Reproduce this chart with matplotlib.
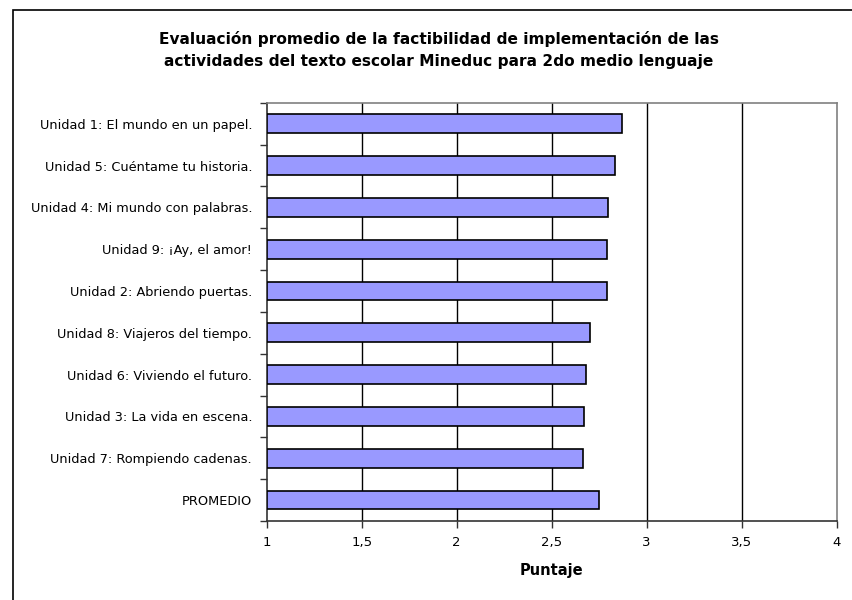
import matplotlib.pyplot as plt
import matplotlib.patches as patches
import numpy as np

unidades = ["Unidad 1: El mundo en un papel.",
            "Unidad 5: Cuéntame tu historia.",
            "Unidad 4: Mi mundo con palabras.",
            "Unidad 9: ¡Ay, el amor!",
            "Unidad 2: Abriendo puertas.",
            "Unidad 8: Viajeros del tiempo.",
            "Unidad 6: Viviendo el futuro.",
            "Unidad 3: La vida en escena.",
            "Unidad 7: Rompiendo cadenas.",
            "PROMEDIO"]
puntajes = [2.87, 2.834, 2.797, 2.79, 2.79, 2.702, 2.679, 2.672, 2.665, 2.751]
xticks = [1, 1.5, 2, 2.5, 3, 3.5, 4]
xlabels = ["1", "1,5", "2", "2,5", "3", "3,5", "4"]

plt.rcParams['font.family'] = ['DejaVu Sans']

fig = plt.figure(figsize=(8.52, 6), dpi=100)
ax = fig.add_axes([0.313, 0.1317, 0.669, 0.697])

y = np.arange(len(unidades))
ax.barh(y, np.array(puntajes) - 1, left=1, height=0.45, color="#9999FF",
        edgecolor="black", linewidth=1.2, zorder=3)

ax.set_xlim(1, 4)
ax.set_ylim(len(unidades) - 0.5, -0.5)
ax.set_xticks(xticks)
ax.set_xticklabels(xlabels, fontsize=9.5)
ax.set_yticks(y)
ax.set_yticklabels(unidades, fontsize=9.3)
ax.tick_params(axis="y", which="major", length=0, pad=10.5)
ax.set_yticks(np.arange(len(unidades) + 1) - 0.5, minor=True)
ax.tick_params(axis="y", which="minor", length=5, width=1, color="#333333")
ax.tick_params(axis="x", length=5, width=1, color="#333333", pad=6)

for xv in xticks[1:-1]:
    ax.axvline(xv, color="black", linewidth=1, zorder=1)

ax.spines["top"].set_color("#808080")
ax.spines["right"].set_color("#808080")
ax.spines["left"].set_color("#333333")
ax.spines["bottom"].set_color("#333333")
for s in ax.spines.values():
    s.set_linewidth(1.2)

ax.set_xlabel("Puntaje", fontsize=10.5, fontweight="bold", labelpad=10)

fig.text(0.515, 0.917,
         "Evaluación promedio de la factibilidad de implementación de las\n"
         "actividades del texto escolar Mineduc para 2do medio lenguaje",
         ha="center", va="center", fontsize=11.1, fontweight="bold", linespacing=1.55)

border = patches.Rectangle((0.015, -0.05), 1.0, 1.0 - 10 / 600 + 0.05,
                           transform=fig.transFigure, fill=False,
                           edgecolor="black", linewidth=1.2)
fig.patches.append(border)

fig.savefig("out.png", dpi=100)
